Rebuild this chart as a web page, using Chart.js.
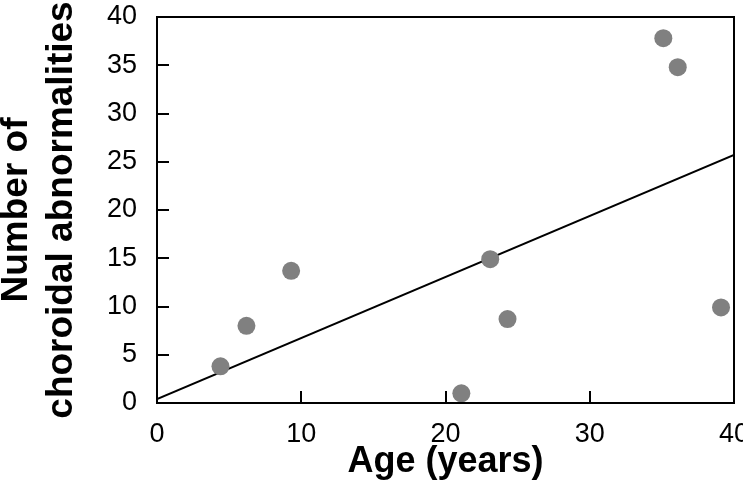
<!DOCTYPE html>
<html>
<head>
<meta charset="utf-8">
<script src="https://cdn.jsdelivr.net/npm/chart.js@4/dist/chart.umd.min.js"></script>
<style>
  html, body { margin: 0; padding: 0; background: #fff; }
  #wrap { width: 743px; height: 487px; }
</style>
</head>
<body>
<div id="wrap"><canvas id="c" width="743" height="487"></canvas></div>
<script>
const ages = [4.4, 6.2, 9.3, 21.1, 23.1, 24.3, 35.1, 36.1, 39.1];
const counts = [3.8, 8.0, 13.7, 1.0, 14.9, 8.7, 37.8, 34.8, 9.9];
const trendX = [0, 40];
const trendY = [0.4, 25.7];
const xTitle = 'Age (years)';
const yTitle = ['Number of', 'choroidal abnormalities'];

const FONT = "'Liberation Sans', Arial, sans-serif";

const framePlugin = {
  id: 'frame',
  afterDatasetsDraw(chart) {
    const {ctx, chartArea: a, scales: {x, y}} = chart;
    ctx.save();
    ctx.strokeStyle = '#000';
    ctx.lineWidth = 2;
    ctx.beginPath();
    x.ticks.forEach(t => {
      if (t.value <= x.min || t.value >= x.max) return;
      const px = Math.round(x.getPixelForValue(t.value));
      ctx.moveTo(px, a.bottom);
      ctx.lineTo(px, a.bottom - 12);
    });
    y.ticks.forEach(t => {
      if (t.value <= y.min || t.value >= y.max) return;
      const py = Math.round(y.getPixelForValue(t.value));
      ctx.moveTo(a.left, py);
      ctx.lineTo(a.left + 12, py);
    });
    ctx.stroke();
    ctx.strokeRect(a.left, a.top, a.right - a.left, a.bottom - a.top);
    ctx.restore();
  }
};

function noPad(s) { s.paddingLeft = 0; s.paddingRight = 0; s.paddingTop = 0; s.paddingBottom = 0; }

new Chart(document.getElementById('c'), {
  type: 'scatter',
  data: {
    datasets: [
      {
        label: 'trend',
        data: trendX.map((v, i) => ({x: v, y: trendY[i]})),
        showLine: true,
        borderColor: '#000',
        borderWidth: 2,
        pointRadius: 0,
        fill: false,
        order: 2
      },
      {
        label: 'patients',
        data: ages.map((v, i) => ({x: v, y: counts[i]})),
        backgroundColor: '#808080',
        borderWidth: 0,
        pointRadius: 9,
        pointHoverRadius: 9,
        clip: false,
        order: 1
      }
    ]
  },
  options: {
    responsive: false,
    animation: false,
    events: [],
    layout: { padding: { top: 17, right: 9, left: 0, bottom: 0 } },
    plugins: { legend: { display: false }, tooltip: { enabled: false } },
    scales: {
      x: {
        type: 'linear',
        min: 0, max: 40,
        grid: { display: false, drawTicks: false },
        border: { display: false },
        ticks: { stepSize: 10, color: '#000', padding: 15, font: { family: FONT, size: 27 } },
        title: { display: true, text: xTitle, color: '#000', padding: { top: 0, bottom: 3 },
                 font: { family: FONT, size: 36, weight: 'bold', lineHeight: 1.2 } },
        afterFit(s) { s.height = 84; noPad(s); }
      },
      y: {
        type: 'linear',
        min: 0, max: 40,
        grid: { display: false, drawTicks: false },
        border: { display: false },
        ticks: { stepSize: 5, color: '#000', padding: 20, font: { family: FONT, size: 27 } },
        title: { display: true, text: yTitle, color: '#000', padding: { top: -5, bottom: 0 },
                 font: { family: FONT, size: 37, weight: 'bold', lineHeight: 1.2 } },
        afterFit(s) { s.width = 157; noPad(s); }
      }
    }
  },
  plugins: [framePlugin]
});
</script>
</body>
</html>
